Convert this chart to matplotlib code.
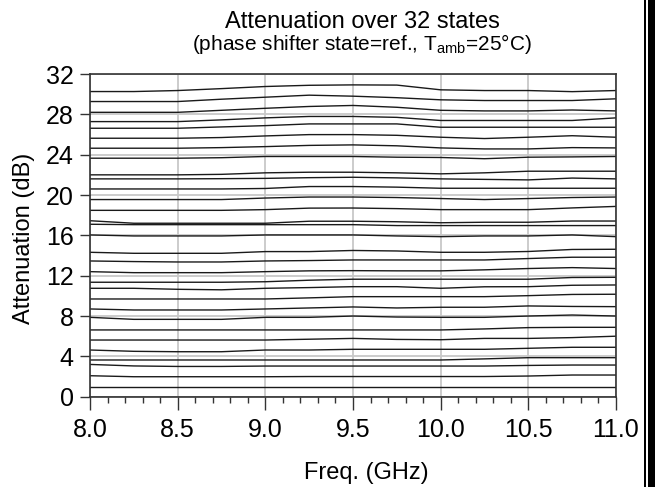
import matplotlib
matplotlib.use("Agg")
import matplotlib.pyplot as plt
from matplotlib.ticker import MultipleLocator
from matplotlib.patches import Rectangle

plt.rcParams['font.family'] = ['Liberation Sans', 'DejaVu Sans']

freq = [8.0, 8.25, 8.5, 8.75, 9.0, 9.25, 9.5, 9.75, 10.0, 10.25, 10.5, 10.75, 11.0]

att_states = [
    [30.26, 30.26, 30.36, 30.55, 30.76, 30.88, 30.92, 30.90, 30.43, 30.36, 30.36, 30.25, 30.36],
    [29.27, 29.27, 29.27, 29.50, 29.70, 29.90, 29.80, 29.65, 29.44, 29.37, 29.37, 29.37, 29.54],
    [28.20, 28.20, 28.20, 28.40, 28.60, 28.78, 28.88, 28.70, 28.40, 28.34, 28.34, 28.43, 28.34],
    [27.28, 27.28, 27.28, 27.45, 27.65, 27.79, 27.79, 27.70, 27.39, 27.39, 27.39, 27.39, 27.65],
    [26.62, 26.62, 26.62, 26.75, 26.88, 27.05, 27.05, 27.05, 26.72, 26.72, 26.72, 26.72, 26.72],
    [25.63, 25.63, 25.63, 25.70, 25.86, 25.99, 25.99, 25.92, 25.73, 25.60, 25.73, 25.88, 25.73],
    [24.64, 24.64, 24.64, 24.70, 24.80, 24.92, 24.97, 24.88, 24.67, 24.57, 24.57, 24.70, 24.67],
    [23.65, 23.65, 23.65, 23.70, 23.82, 23.82, 23.82, 23.75, 23.72, 23.60, 23.75, 23.78, 23.82],
    [22.00, 22.00, 22.00, 22.05, 22.20, 22.26, 22.26, 22.20, 22.10, 22.20, 22.36, 22.36, 22.36],
    [21.60, 21.60, 21.60, 21.62, 21.65, 21.72, 21.76, 21.70, 21.60, 21.55, 21.50, 21.68, 21.60],
    [20.60, 20.60, 20.60, 20.60, 20.65, 20.84, 20.84, 20.78, 20.67, 20.67, 20.67, 20.67, 20.67],
    [19.55, 19.55, 19.55, 19.55, 19.70, 19.80, 19.80, 19.75, 19.65, 19.55, 19.65, 19.75, 19.80],
    [18.48, 18.48, 18.48, 18.48, 18.55, 18.70, 18.71, 18.65, 18.55, 18.55, 18.55, 18.72, 18.87],
    [17.45, 17.20, 17.20, 17.20, 17.20, 17.40, 17.40, 17.35, 17.25, 17.30, 17.30, 17.42, 17.42],
    [17.10, 17.06, 17.06, 17.06, 17.06, 17.06, 17.06, 16.97, 16.97, 16.97, 16.97, 16.97, 16.97],
    [16.04, 15.94, 15.94, 15.94, 16.04, 16.04, 16.04, 15.94, 15.87, 15.94, 15.94, 16.04, 15.87],
    [14.32, 14.22, 14.22, 14.22, 14.39, 14.39, 14.50, 14.45, 14.32, 14.32, 14.40, 14.60, 14.62],
    [13.46, 13.40, 13.36, 13.36, 13.46, 13.50, 13.56, 13.56, 13.56, 13.56, 13.70, 13.83, 13.83],
    [12.40, 12.30, 12.30, 12.30, 12.40, 12.48, 12.50, 12.48, 12.48, 12.58, 12.71, 12.80, 12.71],
    [11.35, 11.35, 11.35, 11.35, 11.40, 11.55, 11.65, 11.65, 11.65, 11.65, 11.65, 11.82, 11.84],
    [10.75, 10.75, 10.65, 10.60, 10.75, 10.82, 10.91, 10.91, 10.75, 10.90, 10.91, 11.05, 11.08],
    [9.69, 9.69, 9.69, 9.69, 9.69, 9.80, 9.92, 9.92, 9.92, 9.92, 10.02, 10.14, 10.16],
    [8.70, 8.60, 8.60, 8.60, 8.70, 8.80, 8.90, 8.80, 8.87, 8.87, 9.00, 8.95, 8.93],
    [7.87, 7.67, 7.67, 7.67, 7.87, 7.87, 8.00, 7.90, 7.87, 7.87, 8.00, 8.10, 8.00],
    [6.62, 6.62, 6.62, 6.62, 6.62, 6.62, 6.62, 6.62, 6.62, 6.72, 6.85, 6.88, 6.88],
    [5.62, 5.62, 5.62, 5.62, 5.62, 5.70, 5.78, 5.68, 5.65, 5.78, 5.78, 5.86, 6.00],
    [4.63, 4.50, 4.46, 4.46, 4.63, 4.63, 4.70, 4.70, 4.70, 4.70, 4.80, 4.90, 4.90],
    [3.64, 3.64, 3.64, 3.64, 3.64, 3.64, 3.64, 3.64, 3.64, 3.75, 3.87, 3.87, 3.87],
    [3.20, 3.05, 3.00, 3.00, 3.04, 3.04, 3.04, 3.04, 3.04, 3.04, 3.10, 3.14, 3.14],
    [2.08, 1.98, 1.98, 1.98, 1.98, 2.00, 2.00, 2.00, 2.00, 2.00, 2.05, 2.15, 2.15],
    [0.99, 0.99, 0.99, 0.99, 0.99, 0.99, 0.99, 0.99, 0.99, 0.99, 0.99, 0.99, 0.99],
    [0.00, 0.00, 0.00, 0.00, 0.00, 0.00, 0.00, 0.00, 0.00, 0.00, 0.00, 0.00, 0.00],
]

x_ticks = [8.0, 8.5, 9.0, 9.5, 10.0, 10.5, 11.0]
x_tick_labels = ["8.0", "8.5", "9.0", "9.5", "10.0", "10.5", "11.0"]
y_ticks = [0, 4, 8, 12, 16, 20, 24, 28, 32]

title = "Attenuation over 32 states"
subtitle = r"(phase shifter state=ref., T$_\mathregular{amb}$=25°C)"
x_label = "Freq. (GHz)"
y_label = "Attenuation (dB)"

W, H = 657, 487
fig = plt.figure(figsize=(W/100, H/100), dpi=100)
ax = fig.add_axes([90/W, 1-396.7/H, (616-90)/W, (396.7-74)/H])

for vals in att_states:
    ax.plot(freq, vals, color='#1a1a1a', lw=1.0, solid_joinstyle='round')

ax.set_xlim(8.0, 11.0)
ax.set_ylim(0, 32)
ax.set_xticks(x_ticks)
ax.set_xticklabels(x_tick_labels)
ax.set_yticks(y_ticks)
ax.xaxis.set_minor_locator(MultipleLocator(0.1))
ax.grid(True, which='major', color='#c8c8c8', lw=1.3)
ax.set_axisbelow(True)
ax.tick_params(axis='both', which='major', direction='out', width=1.0,
               labelsize=18, color='#333333')
ax.tick_params(axis='x', which='major', length=9.5, pad=5.5)
ax.tick_params(axis='y', which='major', length=7.2, pad=4.5)
ax.tick_params(axis='x', which='minor', direction='out', length=4.5, width=1.0, color='#333333')
for s in ax.spines.values():
    s.set_color('#333333')
    s.set_linewidth(1.2)

fig.text(366/W, 1-479/H, x_label, ha='center', va='baseline', fontsize=17)
fig.text(24/W, 1-238/H, y_label, ha='center', va='center', rotation=90, fontsize=17)

fig.text(362/W, 1-28/H, title, ha='center', va='baseline', fontsize=17)
fig.text(362/W, 1-50/H, subtitle, ha='center', va='baseline', fontsize=15)

# right-side border decoration
fig.add_artist(Rectangle((644.3/W, 0), 1.7/W, 1, transform=fig.transFigure,
                         facecolor='black', edgecolor='none'))
fig.add_artist(Rectangle((648.3/W, 0), 6.7/W, 1, transform=fig.transFigure,
                         facecolor='black', edgecolor='none'))

fig.savefig("out.png", dpi=100)
